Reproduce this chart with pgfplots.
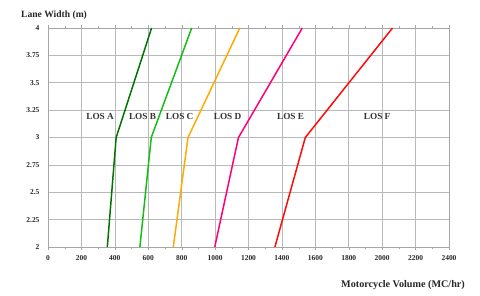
\documentclass[border=0pt]{standalone}
\usepackage{fontspec}
\setmainfont{Liberation Serif}
\usepackage{pgfplots}
\pgfplotsset{compat=1.18}
\definecolor{losA}{RGB}{0,115,0}
\definecolor{losB}{RGB}{20,190,20}
\definecolor{losC}{RGB}{255,170,0}
\definecolor{losD}{RGB}{255,0,120}
\definecolor{losE}{RGB}{255,10,10}
\begin{document}
\begin{tikzpicture}
\begin{axis}[
  scale only axis,
  width=401bp, height=219bp,
  xmin=0, xmax=2400, ymin=2, ymax=4,
  xtick={0,200,...,2400},
  ytick={2,2.25,2.5,2.75,3,3.25,3.5,3.75,4},
  yticklabels={2,2.25,2.5,2.75,3,3.25,3.5,3.75,4},
  minor x tick num=1,
  grid=major,
  major grid style={gray!55, line width=0.6pt},
  axis line style={gray!70, line width=0.6pt},
  tick style={gray!70},
  tick align=outside,
  major tick length=3bp, minor tick length=2bp,
  ytick style={draw=none},
  tick label style={font=\bfseries\fontsize{7.5}{8}\selectfont, text=black!85, /pgf/number format/assume math mode=true},
  /pgf/number format/1000 sep={},
  yticklabel style={xshift=-2bp},
  xticklabel style={yshift=-2bp},
  clip=false,
]
\addplot[losA, line width=1.5pt] coordinates {(355,2) (408,3) (620,4)};
\addplot[losB, line width=1.5pt] coordinates {(550,2) (618,3) (860,4)};
\addplot[losC, line width=1.5pt] coordinates {(750,2) (838,3) (1148,4)};
\addplot[losD, line width=1.5pt] coordinates {(998,2) (1140,3) (1522,4)};
\addplot[losE, line width=1.5pt] coordinates {(1358,2) (1540,3) (2062,4)};
\begin{scope}[font=\bfseries\fontsize{9.3}{10}\selectfont, text=black!80]
\node at (axis cs:312,3.19) {LOS A};
\node at (axis cs:566,3.19) {LOS B};
\node at (axis cs:788,3.19) {LOS C};
\node at (axis cs:1075,3.19) {LOS D};
\node at (axis cs:1452,3.19) {LOS E};
\node at (axis cs:1970,3.19) {LOS F};
\end{scope}
\coordinate (o) at (rel axis cs:0,0);
\end{axis}
\node[anchor=west, inner sep=0pt, font=\bfseries\fontsize{9.6}{11}\selectfont, text=black!85] at ([shift={(-27bp,232bp)}]o) {Lane Width (m)};
\node[anchor=east, inner sep=0pt, font=\bfseries\fontsize{10.2}{11}\selectfont, text=black!85] at ([shift={(417bp,-38bp)}]o) {Motorcycle Volume (MC/hr)};
\pgfresetboundingbox
\useasboundingbox ([shift={(-48bp,-49bp)}]o) rectangle ++(480bp,296bp);
\end{tikzpicture}
\end{document}
